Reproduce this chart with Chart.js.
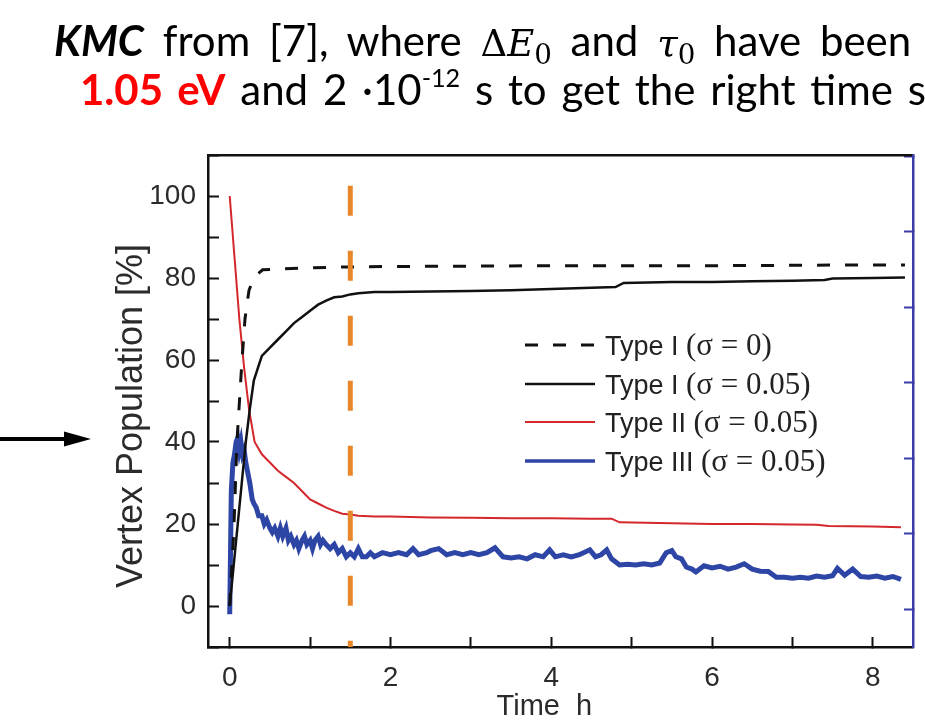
<!DOCTYPE html>
<html>
<head>
<meta charset="utf-8">
<script src="https://cdn.jsdelivr.net/npm/chart.js@4.4.1/dist/chart.umd.min.js"></script>
<style>
  html, body { margin: 0; padding: 0; background: #fff; }
  #wrap { position: relative; width: 925px; height: 722px; overflow: hidden; }
  #chart { position: absolute; left: 0; top: 0; }
  .head { position: absolute; white-space: nowrap; font-family: Lato, 'Open Sans', sans-serif; font-size: 42px; line-height: 1; color: #000; word-spacing: 4px; }
  .head.wide { word-spacing: 8px; }
  .head .hot { color: #f00; }
  .head .math { font-family: 'DejaVu Serif', 'Liberation Serif', serif; font-size: 37px; }
  .head sub { font-size: 0.75em; vertical-align: -0.3em; font-style: normal; }
  .head sup { font-size: 0.6em; vertical-align: 0.7em; }
  #arrow { position: absolute; left: 0; top: 424px; }
  #legend { position: absolute; left: 525px; top: 326px; }
  #legend .row { display: flex; align-items: center; height: 38.5px; }
  #legend svg { margin-right: 10px; }
  #legend .lbl { font-family: 'Liberation Sans', Arial, sans-serif; font-size: 27px; color: #222; white-space: pre; }
  #legend .serif { font-family: 'Liberation Serif', 'Times New Roman', serif; font-size: 31px; }
</style>
</head>
<body>
<div id="wrap">
  <canvas id="chart" width="925" height="722"></canvas>
  <div class="head wide" style="left:54px; top:19px;"><b><i>KMC</i></b> from [7], where <span class="math">Δ<i>E</i><sub>0</sub></span> and <span class="math"><i>τ</i><sub>0</sub></span> have been</div>
  <div class="head" style="left:80px; top:65px;"><b class="hot">1.05 eV</b> and 2 ·10<sup>-12</sup> s to get the right time s</div>
  <svg id="arrow" width="95" height="30" viewBox="0 0 95 30">
    <line x1="0" y1="15" x2="68" y2="15" stroke="#000" stroke-width="4"/>
    <polygon points="64,7.5 91,15 64,22.5" fill="#000"/>
  </svg>
  <div id="legend"></div>
</div>
<script>
// time axis [h] and populations [%]
const tTypeI0 = [0, 0.05, 0.09, 0.15, 0.19, 0.24, 0.29, 0.35, 0.41, 0.6, 1.0, 1.5, 2, 3, 4, 5, 6, 7, 8, 8.4];
const typeI0 = [0, 18, 40, 59, 70, 77, 79.5, 81, 82, 82.2, 82.5, 82.7, 82.8, 82.9, 83, 83, 83, 83.1, 83.2, 83.2];

const tTypeI = [0, 0.05, 0.1, 0.15, 0.2, 0.25, 0.3, 0.35, 0.4, 0.5, 0.6, 0.7, 0.8, 0.9, 1.0, 1.1, 1.2, 1.3, 1.4, 1.5,
  1.6, 1.8, 2.0, 2.5, 3.0, 3.5, 4.0, 4.5, 4.8, 4.9, 5.5, 6, 6.5, 7, 7.4, 7.5, 8, 8.4];
const typeI = [0, 10, 20, 30, 40, 48, 55, 58, 61, 63, 65, 67, 69, 70.5, 72, 73.5, 74.5, 75.3, 75.5, 76,
  76.3, 76.6, 76.6, 76.7, 76.8, 77, 77.3, 77.6, 77.8, 78.8, 79, 79, 79.2, 79.3, 79.5, 79.9, 80, 80.1];

const tTypeII = [0, 0.06, 0.12, 0.18, 0.24, 0.31, 0.4, 0.5, 0.6, 0.7, 0.8, 0.9, 1.0, 1.1, 1.2, 1.3, 1.4, 1.5, 1.6, 1.8,
  2.0, 2.5, 3, 3.5, 4, 4.5, 4.75, 4.85, 5.5, 6, 6.5, 7, 7.3, 7.45, 8, 8.35];
const typeII = [100, 85, 70, 58, 48, 40, 37, 35, 33, 31.5, 30, 28, 26, 25, 24, 23.2, 22.5, 22.3, 22, 21.8,
  21.8, 21.6, 21.5, 21.4, 21.4, 21.3, 21.3, 20.4, 20.2, 20, 20, 19.9, 19.8, 19.5, 19.4, 19.2];

const tTypeIII = [0, 0.02, 0.04, 0.06, 0.08, 0.1, 0.12, 0.14, 0.16, 0.18, 0.2, 0.22, 0.25, 0.28, 0.3, 0.33, 0.36, 0.4,
  0.43, 0.46, 0.5, 0.53, 0.56, 0.6, 0.63, 0.66, 0.7, 0.73, 0.76, 0.8, 0.83, 0.86, 0.9, 0.93, 0.96, 1.0, 1.03, 1.06,
  1.1, 1.13, 1.16, 1.2, 1.25, 1.3, 1.35, 1.4, 1.45, 1.5, 1.55, 1.6, 1.65, 1.7, 1.75, 1.8, 1.9, 2.0, 2.1, 2.2, 2.28,
  2.35, 2.45, 2.5, 2.6, 2.7, 2.8, 2.9, 3.0, 3.1, 3.2, 3.3, 3.4, 3.5, 3.6, 3.7, 3.8, 3.9, 3.98, 4.05, 4.15, 4.25,
  4.35, 4.48, 4.55, 4.62, 4.69, 4.75, 4.85, 4.95, 5.05, 5.15, 5.25, 5.35, 5.43, 5.5, 5.55, 5.62, 5.68, 5.75, 5.8,
  5.9, 6.0, 6.1, 6.2, 6.3, 6.4, 6.5, 6.6, 6.7, 6.8, 6.9, 7.0, 7.1, 7.2, 7.3, 7.4, 7.5, 7.56, 7.65, 7.75, 7.85,
  7.95, 8.05, 8.15, 8.25, 8.35];
const typeIII = [-2, 28, 35, 37, 40, 41, 38, 40, 37, 38, 35, 33, 30, 26, 25, 24, 22, 22,
  20, 21, 19, 18, 19, 17, 19, 17, 19, 16, 17, 15, 16, 14, 16, 17, 15, 16, 14, 16,
  17, 15, 16, 15, 14, 15, 13, 14, 12, 13, 12, 14, 12, 12, 13, 12, 13, 12.5, 13, 12.5, 14,
  12.5, 13, 13.5, 14, 12.5, 13, 12.5, 13, 12.5, 13, 14.2, 12, 11.7, 12, 11.5, 12.5, 12, 13.7, 12, 12.5, 12,
  12.5, 13.7, 12, 12.5, 13.7, 11.5, 10, 10.2, 10, 10.3, 10, 10.5, 13, 13.5, 12, 11.5, 9.5, 9, 8.3,
  9.8, 9.3, 9.7, 9, 9.5, 10.3, 9, 8.5, 8.4, 7, 7, 6.8, 7, 6.8, 7.3, 7, 7.4, 9.2, 7.5, 9, 7.2,
  7, 7.3, 6.8, 7.2, 6.5];

// orange marker at t = 1.5 h
const markerT = [1.5, 1.5];
const markerY = [102.5, -10];

const xMin = -0.27, xMax = 8.5;
const yMin = -10, yMax = 110;

const sans = "'Liberation Sans', Arial, sans-serif";
const ink = '#111';
const tickInk = '#2b2b2b';
const rightInk = '#3c3ca8';

const pts = (xs, ys) => xs.map((x, i) => ({ x, y: ys[i] }));

const datasets = [
  { label: 'Type I (σ = 0)', data: pts(tTypeI0, typeI0), borderColor: ink, borderWidth: 3, borderDash: [13, 15], order: 1 },
  { label: 'Type I (σ = 0.05)', data: pts(tTypeI, typeI), borderColor: ink, borderWidth: 2.5, order: 2 },
  { label: 'Type II (σ = 0.05)', data: pts(tTypeII, typeII), borderColor: '#d3272c', borderWidth: 2, order: 3 },
  { label: 'Type III (σ = 0.05)', data: pts(tTypeIII, typeIII), borderColor: '#2d45a5', borderWidth: 5, order: 4 },
  { label: 'marker', data: pts(markerT, markerY), borderColor: '#e8862a', borderWidth: 5, borderDash: [30, 35], order: 0 },
];

new Chart(document.getElementById('chart'), {
  type: 'line',
  data: { datasets },
  options: {
    responsive: false,
    animation: false,
    devicePixelRatio: 1,
    elements: { point: { radius: 0 }, line: { tension: 0, fill: false } },
    layout: { padding: 0 },
    plugins: { legend: { display: false }, tooltip: { enabled: false } },
    scales: {
      x: {
        type: 'linear', position: 'bottom', min: xMin, max: xMax,
        afterFit: s => { s.height = 75; },
        border: { color: ink, width: 2.5 },
        grid: { drawOnChartArea: false, tickLength: -10, tickColor: ink, tickWidth: 2 },
        ticks: {
          stepSize: 1, includeBounds: false, autoSkip: false, maxRotation: 0, padding: 24,
          color: tickInk, font: { family: sans, size: 28 },
          callback: v => (v % 2 === 0 ? v : ''),
        },
        title: { display: true, text: 'Time  h    ', color: tickInk, font: { family: sans, size: 29 }, padding: { top: 0, bottom: -2 } },
      },
      xTop: {
        type: 'linear', position: 'top',
        afterFit: s => { s.height = 155; },
        border: { color: ink, width: 2.5 },
        grid: { display: false },
        ticks: { display: false },
      },
      y: {
        type: 'linear', position: 'left', min: yMin, max: yMax,
        afterFit: s => { s.width = 208; },
        border: { color: ink, width: 2.5 },
        grid: { drawOnChartArea: false, tickLength: -11, tickColor: ink, tickWidth: 2 },
        ticks: {
          stepSize: 10, includeBounds: false, autoSkip: false, padding: 23,
          color: tickInk, font: { family: sans, size: 28 },
          callback: v => (v % 20 === 0 && v >= 0 && v <= 100 ? v : ''),
        },
        title: { display: true, text: 'Vertex Population [%]   ', color: tickInk, font: { family: sans, size: 36 }, padding: { top: 110, bottom: 0 } },
      },
      yRight: {
        type: 'linear', position: 'right', min: -0.5, max: 6.02,
        afterFit: s => { s.width = 12; },
        border: { color: rightInk, width: 2.5 },
        grid: { drawOnChartArea: false, tickLength: -9, tickColor: rightInk, tickWidth: 2 },
        ticks: { display: false, stepSize: 1, includeBounds: false },
      },
    },
  },
});

// legend drawn as html so the sigma part can use a serif face
const legend = document.getElementById('legend');
legend.innerHTML = datasets.filter(d => d.label !== 'marker').map(d => {
  const dash = d.borderDash ? `stroke-dasharray="${d.borderDash.join(' ')}"` : '';
  const text = d.label.replace(/\((.*)\)/, '<span class="serif">($1)</span>');
  return `<div class="row">
    <svg width="70" height="10"><line x1="0" y1="5" x2="70" y2="5" stroke="${d.borderColor}" stroke-width="${Math.min(d.borderWidth, 3.5)}" ${dash}/></svg>
    <span class="lbl">${text}</span>
  </div>`;
}).join('');
</script>
</body>
</html>
